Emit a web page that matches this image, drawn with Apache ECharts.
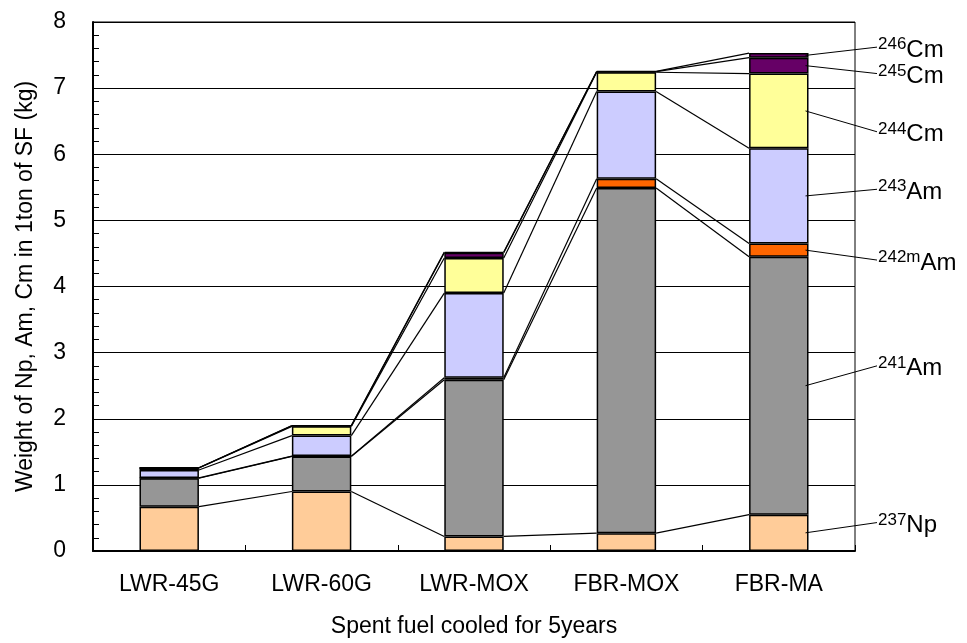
<!DOCTYPE html>
<html>
<head>
<meta charset="utf-8">
<script src="https://cdn.jsdelivr.net/npm/echarts@6/dist/echarts.min.js"></script>
<style>
html, body { margin: 0; padding: 0; background: #fff; }
#main { width: 967px; height: 643px; }
</style>
</head>
<body>
<div id="main"></div>
<script>
var categories = ['LWR-45G', 'LWR-60G', 'LWR-MOX', 'FBR-MOX', 'FBR-MA'];
// kg per ton of spent fuel, stacked bottom -> top
var np237  = [0.67, 0.90, 0.22, 0.27, 0.55];
var am241  = [0.43, 0.53, 2.37, 5.22, 3.90];
var am242m = [0.005, 0.005, 0.03, 0.14, 0.20];
var am243  = [0.12, 0.31, 1.28, 1.32, 1.44];
var cm244  = [0.03, 0.14, 0.53, 0.29, 1.13];
var cm245  = [0.003, 0.01, 0.08, 0.01, 0.24];
var cm246  = [0.0, 0.001, 0.01, 0.002, 0.07];

var nuclides = [
    { mass: '237', el: 'Np', data: np237, color: '#FFCC99' },
    { mass: '241', el: 'Am', data: am241, color: '#969696' },
    { mass: '242m', el: 'Am', data: am242m, color: '#FF6600' },
    { mass: '243', el: 'Am', data: am243, color: '#CCCCFF' },
    { mass: '244', el: 'Cm', data: cm244, color: '#FFFF99' },
    { mass: '245', el: 'Cm', data: cm245, color: '#660066' },
    { mass: '246', el: 'Cm', data: cm246, color: '#660066' }
];

var dom = document.getElementById('main');
var myChart = echarts.init(dom);
var font = 'Liberation Sans, Arial, sans-serif';
var BAR = 0.39; // bar width as share of category band

// cumulative tops of each segment
var tops = [];
var acc = categories.map(function () { return 0; });
nuclides.forEach(function (n, k) {
    tops[k] = n.data.map(function (v, i) { acc[i] += v; return acc[i]; });
});

var series = nuclides.map(function (n) {
    return {
        name: n.mass + n.el,
        type: 'bar',
        stack: 'sf',
        barWidth: (BAR * 100) + '%',
        data: n.data,
        itemStyle: { color: n.color, borderColor: '#000', borderWidth: 1.5 },
        emphasis: { disabled: true }
    };
});

// series lines joining segment tops of neighbouring bars
var joinData = [];
tops.forEach(function (t) {
    for (var i = 0; i < t.length - 1; i++) joinData.push([i, t[i], t[i + 1]]);
});
series.push({
    type: 'custom',
    z: 5,
    silent: true,
    data: joinData,
    encode: { x: 0, y: [1, 2] },
    renderItem: function (params, api) {
        var half = api.size([1, 0])[0] * BAR / 2;
        var a = api.coord([api.value(0), api.value(1)]);
        var b = api.coord([api.value(0) + 1, api.value(2)]);
        return {
            type: 'line',
            shape: { x1: a[0] + half, y1: a[1], x2: b[0] - half, y2: b[1] },
            style: { stroke: '#000', lineWidth: 1.2 }
        };
    }
});

// leader labels on the right of the last bar
var labelAt = [0.43, 2.80, 4.40, 5.47, 6.34, 7.22, 7.62];
var last = categories.length - 1;
var leaderData = nuclides.map(function (n, k) {
    var mid = tops[k][last] - n.data[last] / 2;
    return [last, mid, labelAt[k], k];
});
series.push({
    type: 'custom',
    z: 6,
    silent: true,
    data: leaderData,
    encode: { x: 0, y: [1, 2] },
    renderItem: function (params, api) {
        var half = api.size([1, 0])[0] * BAR / 2;
        var k = api.value(3);
        var s = api.coord([api.value(0), api.value(1)]);
        var e = api.coord([api.value(0), api.value(2)]);
        var sx = s[0] + half - 3;
        var ex = params.coordSys.x + params.coordSys.width + 22;
        return {
            type: 'group',
            children: [{
                type: 'line',
                shape: { x1: sx, y1: s[1], x2: ex, y2: e[1] },
                style: { stroke: '#000', lineWidth: 1 }
            }, {
                type: 'text',
                x: ex + 1,
                y: e[1] + 3,
                style: {
                    text: '{s|' + nuclides[k].mass + '}{m|' + nuclides[k].el + '}',
                    verticalAlign: 'middle',
                    align: 'left',
                    rich: {
                        s: { fontSize: 17, fontFamily: font, fill: '#000', verticalAlign: 'top', lineHeight: 28 },
                        m: { fontSize: 24, fontFamily: font, fill: '#000', lineHeight: 28 }
                    }
                }
            }]
        };
    }
});

var option = {
    animation: false,
    backgroundColor: '#fff',
    grid: { left: 93, right: 112, top: 22, bottom: 89, show: true, borderColor: '#000', borderWidth: 1 },
    xAxis: {
        type: 'category',
        data: categories,
        name: 'Spent fuel cooled for 5years',
        nameLocation: 'middle',
        nameGap: 64,
        nameTextStyle: { fontSize: 23, fontFamily: font, color: '#000' },
        axisLine: { lineStyle: { color: '#000', width: 2 } },
        axisTick: { show: true, inside: true, length: 6, lineStyle: { color: '#000' } },
        axisLabel: { fontSize: 23, fontFamily: font, color: '#000', margin: 22 }
    },
    yAxis: {
        type: 'value',
        min: 0,
        max: 8,
        interval: 1,
        name: 'Weight of Np, Am, Cm in 1ton of SF (kg)',
        nameLocation: 'middle',
        nameGap: 56,
        nameTextStyle: { fontSize: 23, fontFamily: font, color: '#000' },
        axisLine: { show: true, lineStyle: { color: '#000', width: 2 } },
        axisTick: { show: true, inside: true, length: 6, lineStyle: { color: '#000' } },
        minorTick: { show: true, splitNumber: 5, length: 6, lineStyle: { color: '#000' } },
        splitLine: { show: true, lineStyle: { color: '#000', width: 1 } },
        axisLabel: { fontSize: 23, fontFamily: font, color: '#000', margin: 27 }
    },
    series: series
};

if (option && typeof option === 'object') {
    myChart.setOption(option, true);
}
</script>
</body>
</html>
